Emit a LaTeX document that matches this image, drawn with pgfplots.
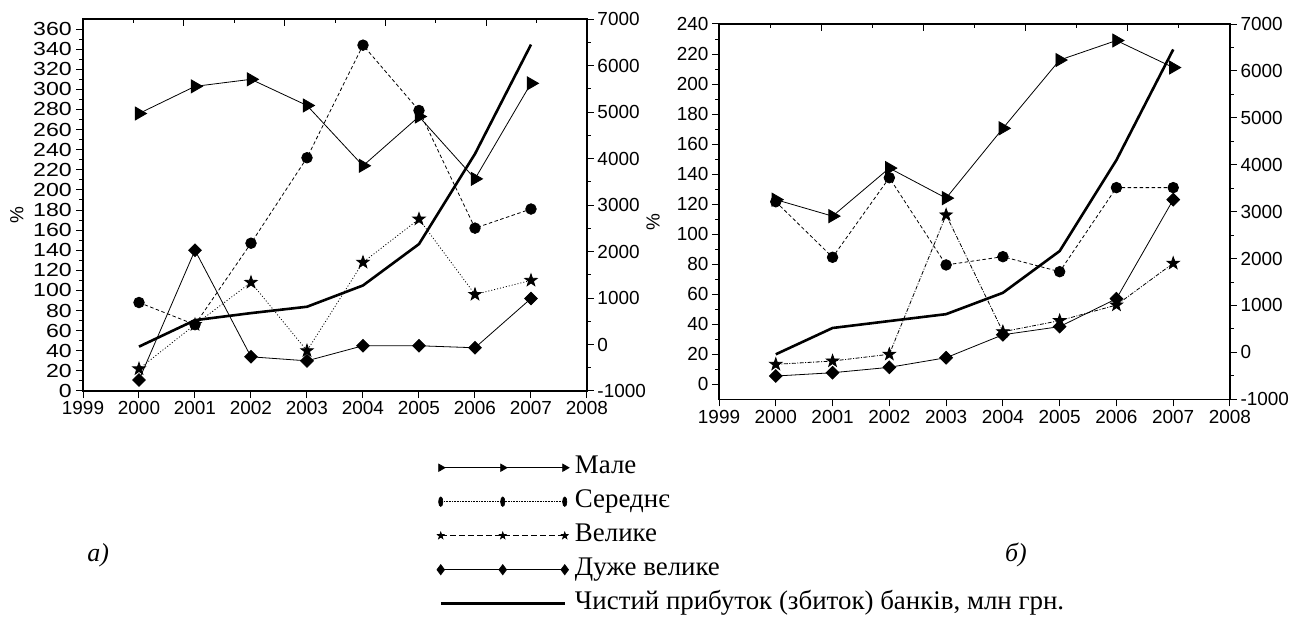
\documentclass[border=0pt]{standalone}
\usepackage{pgfplots}
\pgfplotsset{compat=1.18}
\usepackage{fontspec}
\setmainfont{Liberation Serif}
\newfontfamily\arial{Liberation Sans}
\usetikzlibrary{plotmarks}

\pgfdeclareplotmark{fstar}{%
  \pgfpathmoveto{\pgfpointpolar{90}{\pgfplotmarksize}}%
  \pgfpathlineto{\pgfpointpolar{126}{0.4\pgfplotmarksize}}%
  \pgfpathlineto{\pgfpointpolar{162}{\pgfplotmarksize}}%
  \pgfpathlineto{\pgfpointpolar{198}{0.4\pgfplotmarksize}}%
  \pgfpathlineto{\pgfpointpolar{234}{\pgfplotmarksize}}%
  \pgfpathlineto{\pgfpointpolar{270}{0.4\pgfplotmarksize}}%
  \pgfpathlineto{\pgfpointpolar{306}{\pgfplotmarksize}}%
  \pgfpathlineto{\pgfpointpolar{342}{0.4\pgfplotmarksize}}%
  \pgfpathlineto{\pgfpointpolar{18}{\pgfplotmarksize}}%
  \pgfpathlineto{\pgfpointpolar{54}{0.4\pgfplotmarksize}}%
  \pgfpathclose\pgfusepathqfillstroke}

\pgfplotsset{
  base/.style={scale only axis, anchor=south west, xmin=1999, xmax=2008,
    axis line style={line width=1.2bp},
    every tick/.style={black, line width=1bp},
    major tick length=7bp, minor tick length=4bp, tick align=outside,
    tick label style={font=\arial\fontsize{19}{19}\selectfont},
    /pgf/number format/1000 sep={}, /pgf/number format/assume math mode=true},
  topticks/.style={scale only axis, anchor=south west, xmin=0, xmax=10, ymin=0, ymax=1,
    axis y line=none, axis x line*=top, axis line style={line width=1.2bp},
    every tick/.style={black, line width=1bp},
    major tick length=7bp, minor tick length=4bp, tick align=inside,
    xtick={2,4,6,8}, minor xtick={1,3,5,7,9}, xticklabels={{},{},{},{}},
    xticklabel style={opacity=0}},
  male/.style={black, line width=0.8bp, mark=triangle*, mark size=7.5bp, mark options={solid, rotate=-90}},
  sered/.style={black, line width=0.8bp, dash pattern=on 3.5bp off 2.5bp, mark=*, mark size=5.3bp, mark options={solid}},
  velyke/.style={black, line width=0.8bp, dash pattern=on 1bp off 2bp, mark=fstar, mark size=6.5bp, mark options={solid}},
  velykeb/.style={black, line width=0.8bp, dash pattern=on 4bp off 1.5bp on 1bp off 1.5bp, mark=fstar, mark size=6.5bp, mark options={solid}},
  duzhe/.style={black, line width=0.8bp, mark=square*, mark size=4.5bp, mark options={solid, rotate=45}},
  profit/.style={black, line width=2.6bp, no marks},
}

\begin{document}
\begin{tikzpicture}
\useasboundingbox (0,0) rectangle (1305bp,619bp);

% ---------------- left chart ----------------
\begin{axis}[base, at={(83bp,228bp)}, width=504bp, height=372bp, clip=false,
  ymin=0, ymax=370, xtick={1999,...,2008}, minor x tick num=1,
  ytick={0,20,...,360}, minor y tick num=1, xtick pos=left, ytick pos=left,
  yticklabel style={xscale=1.22, anchor=east},
  ylabel={\%}, ylabel style={font=\arial\fontsize{19}{19}\selectfont, at={(axis description cs:-0.131,0.473)}, anchor=center}]
\addplot[male] coordinates {(2000,276)(2001,303)(2002,310)(2003,284)(2004,224)(2005,273)(2006,211)(2007,306)};
\addplot[sered] coordinates {(2000,88)(2001,66)(2002,147)(2003,232)(2004,344)(2005,279)(2006,162)(2007,181)};
\addplot[velyke] coordinates {(2000,22)(2001,66)(2002,108)(2003,40)(2004,128)(2005,171)(2006,96)(2007,110)};
\addplot[duzhe] coordinates {(2000,11)(2001,140)(2002,34)(2003,30)(2004,45)(2005,45)(2006,43)(2007,92)};
\node[font=\itshape\fontsize{26}{26}\selectfont] at (axis description cs:0.03,-0.441) {а)};
\end{axis}
\begin{axis}[base, at={(83bp,228bp)}, width=504bp, height=372bp,
  ymin=-1000, ymax=7000, axis x line=none, axis y line*=right,
  ytick={-1000,0,...,7000}, minor y tick num=1,
  legend style={at={(axis description cs:0.702,-0.160)}, anchor=north west, draw=none, fill=none,
    inner sep=0pt, font=\fontsize{27}{30}\selectfont,
    nodes={inner xsep=6bp, inner ysep=5bp, text height=18bp, text depth=6bp}, row sep=0pt},
  legend cell align=left,
  legend image code/.code={\draw[mark repeat=1,#1] plot coordinates {(0bp,0bp) (62bp,0bp) (124bp,0bp)};}]
\addlegendimage{black, line width=0.8bp, mark=triangle*, mark size=4.2bp, mark options={solid, rotate=-90}}
\addlegendentry{Мале}
\addlegendimage{black, line width=0.6bp, densely dotted, mark=*, mark size=4.8bp, mark options={solid, xscale=0.45}}
\addlegendentry{Середнє}
\addlegendimage{black, line width=0.6bp, dash pattern=on 6bp off 3bp, mark=fstar, mark size=3.8bp, mark options={solid}}
\addlegendentry{Велике}
\addlegendimage{black, line width=0.8bp, mark=diamond*, mark size=5bp, mark options={solid}}
\addlegendentry{Дуже велике}
\addplot[profit] coordinates {(2000,-46)(2001,523)(2002,675)(2003,812)(2004,1270)(2005,2160)(2006,4100)(2007,6450)};
\addlegendentry{Чистий прибуток (збиток) банків, млн грн.}
\end{axis}
\begin{axis}[topticks, at={(83bp,228bp)}, width=504bp, height=372bp]
\end{axis}

% ---------------- right chart ----------------
\begin{axis}[base, at={(719bp,219.7bp)}, width=511bp, height=375.3bp, clip=false,
  ymin=-10, ymax=240, xtick={1999,...,2008}, minor x tick num=1,
  ytick={0,20,...,240}, minor y tick num=1, xtick pos=left, ytick pos=left,
  ylabel={\%}, ylabel style={font=\arial\fontsize{19}{19}\selectfont, at={(axis description cs:-0.129,0.472)}, anchor=center}]
\addplot[male] coordinates {(2000,123)(2001,112)(2002,144)(2003,124)(2004,170.5)(2005,216)(2006,229)(2007,211)};
\addplot[sered] coordinates {(2000,121.6)(2001,84.6)(2002,137.6)(2003,79.5)(2004,85)(2005,75)(2006,131)(2007,131)};
\addplot[velykeb] coordinates {(2000,13.3)(2001,15.5)(2002,20)(2003,112.8)(2004,35)(2005,42.4)(2006,52.8)(2007,80.6)};
\addplot[duzhe] coordinates {(2000,5.5)(2001,7.7)(2002,11.3)(2003,17.7)(2004,33)(2005,38.4)(2006,57)(2007,123)};
\node[font=\itshape\fontsize{26}{26}\selectfont] at (axis description cs:0.581,-0.415) {б)};
\end{axis}
\begin{axis}[base, at={(719bp,219.7bp)}, width=511bp, height=375.3bp,
  ymin=-1000, ymax=7000, axis x line=none, axis y line*=right,
  ytick={-1000,0,...,7000}, minor y tick num=1]
\addplot[profit] coordinates {(2000,-41)(2001,520)(2002,668)(2003,815)(2004,1270)(2005,2160)(2006,4100)(2007,6457)};
\end{axis}
\begin{axis}[topticks, at={(719bp,219.7bp)}, width=511bp, height=375.3bp]
\end{axis}
\end{tikzpicture}
\end{document}
